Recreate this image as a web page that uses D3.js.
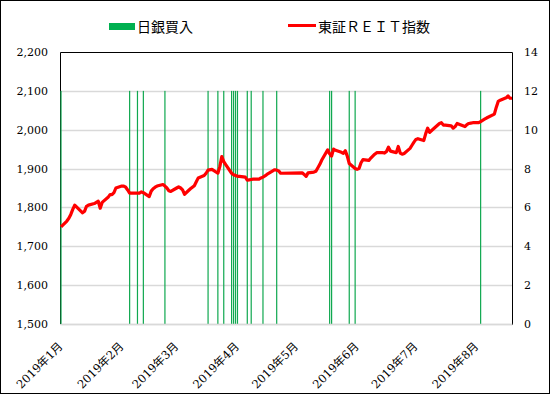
<!DOCTYPE html>
<html>
<head>
<meta charset="utf-8">
<script src="https://cdn.jsdelivr.net/npm/d3@7"></script>
<style>
  body { margin: 0; background: #fff; }
</style>
</head>
<body>
<script>
// 東証REIT指数 (daily close)
const reitDates = [
  '01-04', '01-07', '01-08', '01-09', '01-10', '01-11', '01-15', '01-16', '01-17', '01-18',
  '01-21', '01-22', '01-23', '01-24', '01-25', '01-28', '01-29', '01-30', '01-31',
  '02-01', '02-04', '02-05', '02-06', '02-07', '02-08', '02-12', '02-13', '02-14', '02-15',
  '02-18', '02-19', '02-20', '02-21', '02-22', '02-25', '02-26', '02-27', '02-28',
  '03-01', '03-04', '03-05', '03-06', '03-07', '03-08', '03-11', '03-12', '03-13', '03-14',
  '03-15', '03-18', '03-19', '03-20', '03-22', '03-25', '03-26', '03-27', '03-28', '03-29',
  '04-01', '04-02', '04-03', '04-04', '04-05', '04-08', '04-09', '04-10', '04-11', '04-12',
  '04-15', '04-16', '04-17', '04-18', '04-19', '04-22', '04-23', '04-24', '04-25', '04-26',
  '05-07', '05-08', '05-09', '05-10', '05-13', '05-14', '05-15', '05-16', '05-17',
  '05-20', '05-21', '05-22', '05-23', '05-24', '05-27', '05-28', '05-29', '05-30', '05-31',
  '06-03', '06-04', '06-05', '06-06', '06-07', '06-10', '06-11', '06-12', '06-13', '06-14',
  '06-17', '06-18', '06-19', '06-20', '06-21', '06-24', '06-25', '06-26', '06-27', '06-28',
  '07-01', '07-02', '07-03', '07-04', '07-05', '07-08', '07-09', '07-10', '07-11', '07-12',
  '07-16', '07-17', '07-18', '07-19', '07-22', '07-23', '07-24', '07-25', '07-26',
  '07-29', '07-30', '07-31', '08-01', '08-02', '08-05', '08-06', '08-07', '08-08', '08-09',
  '08-13', '08-14', '08-15', '08-16', '08-19', '08-20', '08-21', '08-22',
];
const reitValues = [
  1750, 1765, 1772, 1782, 1795, 1806, 1786, 1790, 1803, 1806,
  1810, 1813, 1816, 1798, 1813, 1826, 1833, 1833, 1838,
  1850, 1855, 1855, 1852, 1845, 1837, 1837, 1837, 1840, 1838,
  1828, 1842, 1848, 1852, 1855, 1859, 1855, 1850, 1843,
  1841, 1850, 1853, 1850, 1845, 1834, 1848, 1852, 1856, 1866,
  1876, 1882, 1888, 1896, 1898, 1888, 1905, 1931, 1918, 1910,
  1888, 1884, 1882, 1880, 1880, 1878, 1870, 1871, 1872, 1873,
  1873, 1876, 1878, 1881, 1885, 1894, 1897, 1896, 1894, 1888,
  1889, 1885, 1880, 1889, 1891, 1893, 1902, 1911, 1922,
  1948, 1938, 1932, 1950, 1947, 1942, 1939, 1946, 1932, 1913,
  1900, 1898, 1900, 1915, 1923, 1921, 1927, 1932, 1937, 1941,
  1941, 1940, 1944, 1955, 1945, 1941, 1957, 1940, 1937, 1939,
  1952, 1960, 1968, 1975, 1977, 1972, 1990, 2004, 1993, 1998,
  2016, 2018, 2012, 2012, 2010, 2004, 2008, 2016, 2014,
  2008, 2013, 2016, 2017, 2018, 2018, 2021, 2024, 2027, 2030,
  2040, 2058, 2073, 2076, 2082, 2087, 2081, 2081,
];

// 日銀買入 (億円)
const bojDates = [
  '01-04', '02-08', '02-12', '02-15', '02-26', '03-20', '03-25', '03-28',
  '04-01', '04-02', '04-03', '04-04', '04-09', '04-11', '04-17', '04-24',
  '05-21', '05-22', '05-31', '06-03', '08-06',
];
const bojAmounts = [12, 12, 12, 12, 12, 12, 12, 12, 12, 12, 12, 12, 12, 12, 12, 12, 12, 12, 12, 12, 12];

// axes
const leftTicks = [1500, 1600, 1700, 1800, 1900, 2000, 2100, 2200];
const rightTicks = [0, 2, 4, 6, 8, 10, 12, 14];
const monthTicks = ['01-04', '02-04', '03-04', '04-04', '05-04', '06-04', '07-04', '08-04'];

const W = 550;
const H = 394;
const plot = { left: 61, right: 512, top: 52, bottom: 324 };
const tickFont = '"DejaVu Serif", "Liberation Serif", "Noto Sans CJK JP", serif';
const parse = d3.timeParse('%Y-%m-%d');
const toDate = s => parse(`2019-${s}`);

const svg = d3.select('body').append('svg')
  .attr('width', W)
  .attr('height', H);

// outer frame
svg.append('rect')
  .attr('x', 0.5).attr('y', 0.5)
  .attr('width', W - 1).attr('height', H - 1)
  .attr('fill', '#fff')
  .attr('stroke', '#000');

const x = d3.scaleTime()
  .domain([toDate('01-04'), toDate('08-22')])
  .range([plot.left, plot.right]);
const yL = d3.scaleLinear().domain([1500, 2200]).range([plot.bottom, plot.top]);
const yR = d3.scaleLinear().domain([0, 14]).range([plot.bottom, plot.top]);

// gridlines
svg.append('g')
  .selectAll('line')
  .data(leftTicks.slice(0, -1))
  .join('line')
  .attr('x1', plot.left - 1)
  .attr('x2', plot.right)
  .attr('y1', d => Math.round(yL(d)) + 0.5)
  .attr('y2', d => Math.round(yL(d)) + 0.5)
  .attr('stroke', '#d9d9d9')
  .attr('stroke-width', 1.3);

// plot frame (top, left, right black)
svg.append('path')
  .attr('d', `M${plot.left - 0.5},${plot.bottom}V${plot.top + 0.5}H${plot.right + 0.5}V${plot.bottom + 1}`)
  .attr('fill', 'none')
  .attr('stroke', '#000');

// BOJ purchase bars
svg.append('g')
  .selectAll('rect')
  .data(bojDates.map((d, i) => ({ date: toDate(d), value: bojAmounts[i] })))
  .join('rect')
  .attr('x', d => x(d.date) - 0.6)
  .attr('y', d => yR(d.value))
  .attr('width', 1.2)
  .attr('height', d => yR(0) - yR(d.value))
  .attr('fill', '#10a850');

// REIT index line
const line = d3.line()
  .x(d => x(d.date))
  .y(d => yL(d.value));
svg.append('path')
  .datum(reitDates.map((d, i) => ({ date: toDate(d), value: reitValues[i] })))
  .attr('d', line)
  .attr('fill', 'none')
  .attr('stroke', '#ff0000')
  .attr('stroke-width', 3.2)
  .attr('stroke-linejoin', 'round');

// left axis
svg.append('g')
  .attr('transform', `translate(${plot.left},0)`)
  .call(d3.axisLeft(yL).tickValues(leftTicks).tickSize(0).tickPadding(13).tickFormat(d3.format(',')))
  .call(g => g.select('.domain').remove())
  .selectAll('text')
  .style('font-family', tickFont)
  .style('font-size', '11px')
  .attr('fill', '#000');

// right axis
svg.append('g')
  .attr('transform', `translate(${plot.right},0)`)
  .call(d3.axisRight(yR).tickValues(rightTicks).tickSize(0).tickPadding(12))
  .call(g => g.select('.domain').remove())
  .selectAll('text')
  .style('font-family', tickFont)
  .style('font-size', '11px')
  .attr('fill', '#000');

// bottom axis
const xAxisG = svg.append('g')
  .attr('transform', `translate(0,${plot.bottom})`)
  .call(d3.axisBottom(x)
    .tickValues(monthTicks.map(toDate))
    .tickSize(0)
    .tickFormat(d => `${d.getFullYear()}年${d.getMonth() + 1}月`));
xAxisG.select('.domain')
  .attr('stroke', '#d9d9d9')
  .attr('stroke-width', 1.3);
xAxisG.selectAll('text')
  .style('font-family', tickFont)
  .style('font-size', '11.5px')
  .attr('fill', '#000')
  .attr('text-anchor', 'end')
  .attr('dy', null)
  .attr('y', null)
  .attr('transform', 'translate(2,23) rotate(-45)');

// legend
const legend = svg.append('g')
  .style('font-family', '"Noto Sans CJK JP", sans-serif')
  .style('font-size', '14px');
legend.append('rect')
  .attr('x', 109).attr('y', 23)
  .attr('width', 26).attr('height', 7)
  .attr('fill', '#00b050');
legend.append('text')
  .attr('x', 137).attr('y', 31.5)
  .text('日銀買入');
legend.append('line')
  .attr('x1', 288).attr('x2', 316)
  .attr('y1', 25.5).attr('y2', 25.5)
  .attr('stroke', '#ff0000')
  .attr('stroke-width', 3);
legend.append('text')
  .attr('x', 318).attr('y', 31.5)
  .text('東証ＲＥＩＴ指数');
</script>
</body>
</html>
